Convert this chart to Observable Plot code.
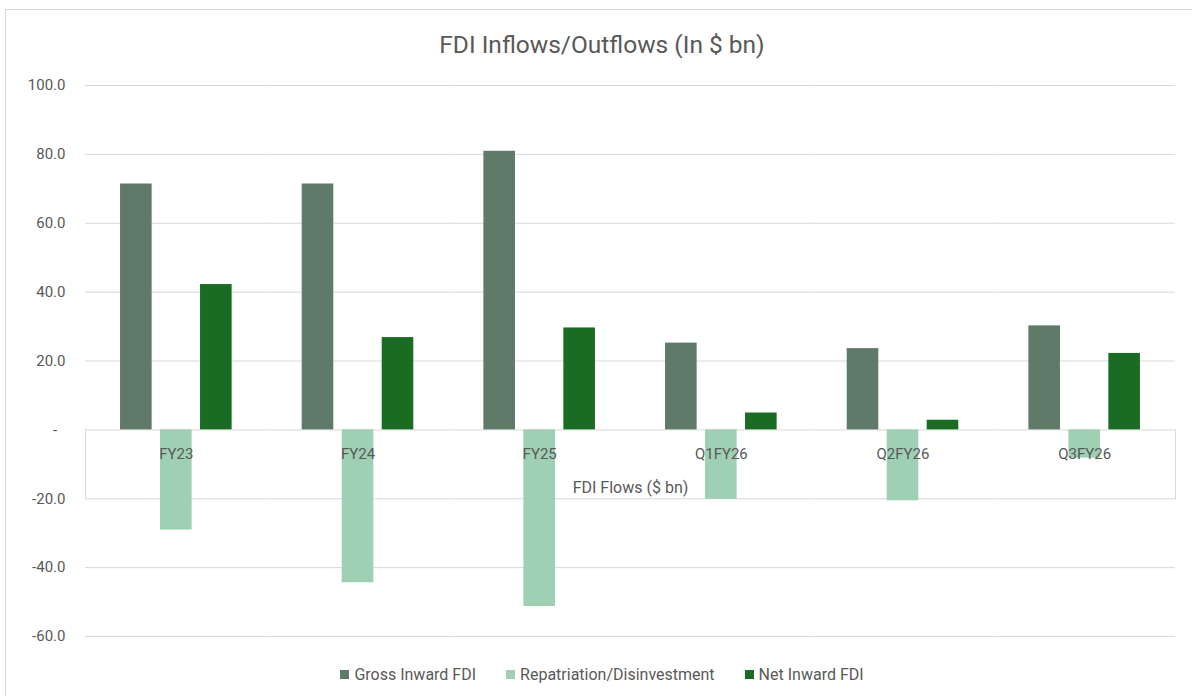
<!DOCTYPE html>
<html>
<head>
<meta charset="utf-8">
<script src="https://cdn.jsdelivr.net/npm/d3@7"></script>
<script src="https://cdn.jsdelivr.net/npm/@observablehq/plot@0.6"></script>
<style>
  body { margin: 0; background: #fff; overflow: hidden; font-family: Roboto, "Liberation Sans", sans-serif; }
  #chart { position: relative; width: 1192px; height: 696px; }
  #border { position: absolute; left: 5px; top: 9px; width: 1200px; height: 720px; border: 1px solid #d9d9d9; pointer-events: none; }
  #title { height: 70px; box-sizing: border-box; padding-top: 30px; padding-left: 12px; font-size: 24.5px; line-height: 29px; text-align: center; color: #595959; }
  #plot svg { display: block; }
  #legend { display: flex; justify-content: center; gap: 30px; padding-top: 12px; padding-left: 12px; font-size: 16px; line-height: 19px; color: #595959; }
  .item { display: flex; align-items: center; gap: 5px; }
  .swatch { width: 9px; height: 9px; }
</style>
</head>
<body>
<div id="chart">
  <div id="border"></div>
  <div id="title"></div>
  <div id="plot"></div>
  <div id="legend"></div>
</div>
<script>
// FDI flows by period, $ bn
const categories = ["FY23", "FY24", "FY25", "Q1FY26", "Q2FY26", "Q3FY26"];
const seriesNames = ["Gross Inward FDI", "Repatriation/Disinvestment", "Net Inward FDI"];
const grossInward = [71.4, 71.4, 80.9, 25.2, 23.6, 30.2];
const repatriation = [-29.1, -44.4, -51.3, -20.2, -20.6, -8.2];
const netInward = [42.2, 26.8, 29.6, 4.9, 2.8, 22.2];
const seriesColors = ["#5f7a69", "#9fd0b3", "#1a6b23"];
const yTicks = [-60, -40, -20, 0, 20, 40, 60, 80, 100];
const titleText = "FDI Inflows/Outflows (In $ bn)";
const axisTitle = "FDI Flows ($ bn)";
const axisCrossing = 0;      // category axis sits on the zero line
const axisBoxBottom = -20;   // the category-label band ends at the next gridline

const rows = categories.flatMap((c, i) => [
  {category: c, series: seriesNames[0], value: grossInward[i]},
  {category: c, series: seriesNames[1], value: repatriation[i]},
  {category: c, series: seriesNames[2], value: netInward[i]}
]);

const W = 1192, H = 583;
const margin = {top: 15, right: 17, bottom: 17, left: 85};
const yDomain = [-60, 100];
const y = Plot.scale({y: {domain: yDomain, range: [H - margin.bottom, margin.top]}});
const boxInsetTop = y.apply(axisCrossing) - margin.top;
const boxInsetBottom = (H - margin.bottom) - y.apply(axisBoxBottom);
const gridColor = "#d9d9d9";
const textColor = "#595959";

const chart = Plot.plot({
  width: W,
  height: H,
  marginTop: margin.top,
  marginRight: margin.right,
  marginBottom: margin.bottom,
  marginLeft: margin.left,
  style: {fontFamily: "Roboto, 'Liberation Sans', sans-serif", fontSize: "15px", color: textColor, background: "white"},
  fx: {domain: categories, padding: 0, axis: null, round: false},
  x: {domain: seriesNames, paddingInner: 0.21, paddingOuter: 0.876, axis: null, round: false},
  y: {domain: yDomain, axis: null},
  color: {domain: seriesNames, range: seriesColors},
  marks: [
    Plot.gridY(yTicks, {stroke: gridColor, strokeOpacity: 1}),
    Plot.frame({anchor: "left", facetAnchor: "left", insetTop: boxInsetTop, insetBottom: boxInsetBottom, stroke: gridColor}),
    Plot.frame({anchor: "right", facetAnchor: "right", insetTop: boxInsetTop, insetBottom: boxInsetBottom, stroke: gridColor}),
    Plot.axisY(yTicks, {
      tickSize: 0,
      tickPadding: 20,
      fontSize: 15,
      label: null,
      tickFormat: d => d === 0 ? "-\u2007" : d.toFixed(1)
    }),
    Plot.barY(rows, {fx: "category", x: "series", y: "value", fill: "series"}),
    Plot.text(categories, {fx: d => d, y: () => axisCrossing, text: d => d, dy: 24, fontSize: 15, fill: textColor}),
    Plot.text([axisTitle], {fx: () => categories[2], frameAnchor: "right", y: () => axisCrossing, text: d => d, dy: 58, fontSize: 16, fill: textColor, textAnchor: "middle"})
  ]
});

document.getElementById("plot").append(chart);
document.getElementById("title").textContent = titleText;

const legend = d3.select("#legend");
seriesNames.forEach((name, i) => {
  const item = legend.append("div").attr("class", "item");
  item.append("div").attr("class", "swatch").style("background", seriesColors[i]);
  item.append("span").text(name);
});
</script>
</body>
</html>
